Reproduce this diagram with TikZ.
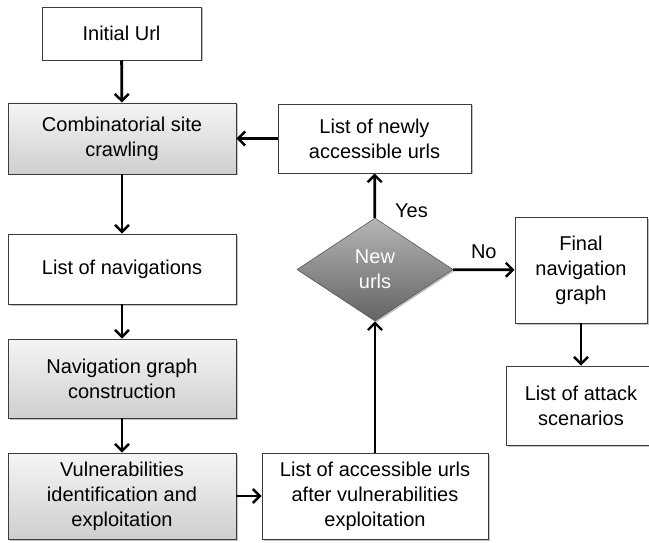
\documentclass[tikz,border=0pt]{standalone}
\usepackage{fontspec}
\setmainfont{Liberation Sans}
\usetikzlibrary{arrows.meta,shapes.geometric,shadows}
\definecolor{boxline}{HTML}{3C3C3C}
\tikzset{
  base/.style={draw=boxline, line width=0.9pt, inner sep=0pt, align=center,
    font=\fontsize{20}{25}\selectfont,
    drop shadow={shadow xshift=1.5pt, shadow yshift=-1.5pt, opacity=0.4, fill=black!60}},
  whitebox/.style={base, fill=white},
  graybox/.style={base, top color=gray!8, bottom color=gray!38},
  decision/.style={diamond, draw=gray!70!black, line width=0.6pt, inner sep=0pt, aspect=1.5,
    top color=gray!58, bottom color=gray!78!black, text=white,
    font=\fontsize{20}{25}\selectfont, align=center,
    drop shadow={shadow xshift=1.5pt, shadow yshift=-1.5pt, opacity=0.4, fill=black!60}},
  flow/.style={line width=2.8pt, -{Straight Barb[length=7pt,width=14pt,line width=2.4pt]}},
  lbl/.style={font=\fontsize{20}{25}\selectfont, inner sep=0pt}
}
\begin{document}
\begin{tikzpicture}[x=1pt,y=-1pt]
\useasboundingbox (0,0) rectangle (649,543);
\node[whitebox, minimum width=159pt, minimum height=53pt] (init) at (121.5,33.5) {Initial Url};
\node[graybox, minimum width=228pt, minimum height=71pt] (crawl) at (122,138.5) {Combinatorial site\\crawling};
\node[whitebox, minimum width=228pt, minimum height=70pt] (navlist) at (122,269) {List of navigations};
\node[graybox, minimum width=228pt, minimum height=79pt] (navgraph) at (122,378.5) {Navigation graph\\construction};
\node[graybox, minimum width=228pt, minimum height=86pt] (vuln) at (122,496) {Vulnerabilities\\identification and\\exploitation};
\node[whitebox, minimum width=226pt, minimum height=86pt] (access) at (375,496) {List of accessible urls\\after vulnerabilities\\exploitation};
\node[decision, minimum width=156pt, minimum height=103pt] (newq) at (375,269.5) {New\\urls};
\node[whitebox, minimum width=193pt, minimum height=69pt] (newly) at (374.5,138.5) {List of newly\\accessible urls};
\node[whitebox, minimum width=132pt, minimum height=106pt] (final) at (581,270) {Final\\navigation\\graph};
\node[whitebox, minimum width=150pt, minimum height=79pt] (attack) at (581,405.5) {List of attack\\scenarios};

\draw[flow] (init) -- (crawl);
\draw[flow] (crawl) -- (navlist);
\draw[flow] (navlist) -- (navgraph);
\draw[flow] (navgraph) -- (vuln);
\draw[flow] (vuln) -- (access);
\draw[flow] (access) -- (newq);
\draw[flow] (newq) -- node[lbl, right=19pt, pos=0.15] (yes) {Yes} (newly);
\draw[flow] (newly) -- (crawl);
\draw[flow] (newq) -- node[lbl, above=10pt, pos=0.5] (no) {No} (final);
\draw[flow] (final) -- (attack);
\end{tikzpicture}
\end{document}
